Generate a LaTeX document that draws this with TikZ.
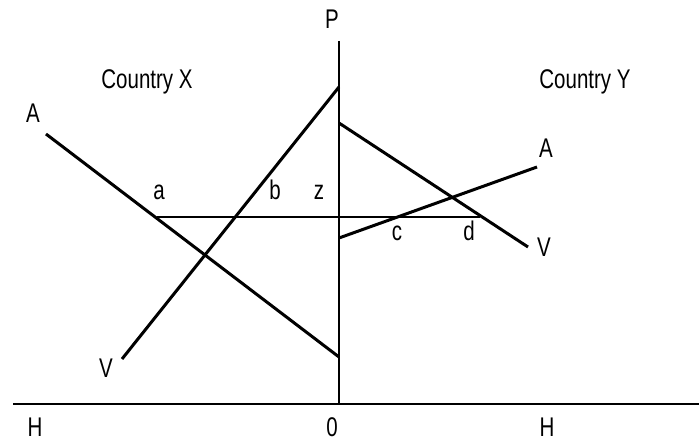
\documentclass[tikz,border=0pt]{standalone}
\usepackage{fontspec}
\setmainfont[FakeStretch=0.76]{Liberation Sans}
\begin{document}
\begin{tikzpicture}[x=1pt,y=-1pt,
  lbl/.style={anchor=base,inner sep=0pt,font=\fontsize{27}{27}\selectfont},
  curve/.style={line width=3pt},
  axis/.style={line width=1.8pt},
  guide/.style={line width=1.4pt}]
\useasboundingbox (0,0) rectangle (699,443);
% axes
\coordinate (top) at (339,41);
\coordinate (orig) at (339,404);
\coordinate (hl) at (13,404);
\coordinate (hr) at (699,404);
\draw[axis] (top) -- (orig);
\draw[axis] (hl) -- (hr);
% Country X
\coordinate (xa1) at (46,134);
\coordinate (xa2) at (339,357);
\coordinate (xv1) at (122,359);
\coordinate (xv2) at (339,87);
\draw[curve] (xa1) -- (xa2);
\draw[curve] (xv1) -- (xv2);
% Country Y
\coordinate (yv1) at (339,123);
\coordinate (yv2) at (528,247);
\coordinate (ya1) at (339,238);
\coordinate (ya2) at (537,167);
\draw[curve] (yv1) -- (yv2);
\draw[curve] (ya1) -- (ya2);
% price line
\coordinate (ga) at (157,217);
\coordinate (gd) at (480,217);
\draw[guide] (ga) -- (gd);
% labels
\node[lbl] (P) at (332,29) {P};
\node[lbl] (cx) at (147,89) {Country X};
\node[lbl] (cy) at (585,89) {Country Y};
\node[lbl] (lA) at (33,123) {A};
\node[lbl] (lV) at (106,378) {V};
\node[lbl] (rA) at (546,158) {A};
\node[lbl] (rV) at (544,257) {V};
\node[lbl] (la) at (159,200) {a};
\node[lbl] (lb) at (275,200) {b};
\node[lbl] (lz) at (319,200) {z};
\node[lbl] (lc) at (397,241) {c};
\node[lbl] (ld) at (469,241) {d};
\node[lbl] (H1) at (35,437) {H};
\node[lbl] (zero) at (332,437) {0};
\node[lbl] (H2) at (547,437) {H};
\end{tikzpicture}
\end{document}
